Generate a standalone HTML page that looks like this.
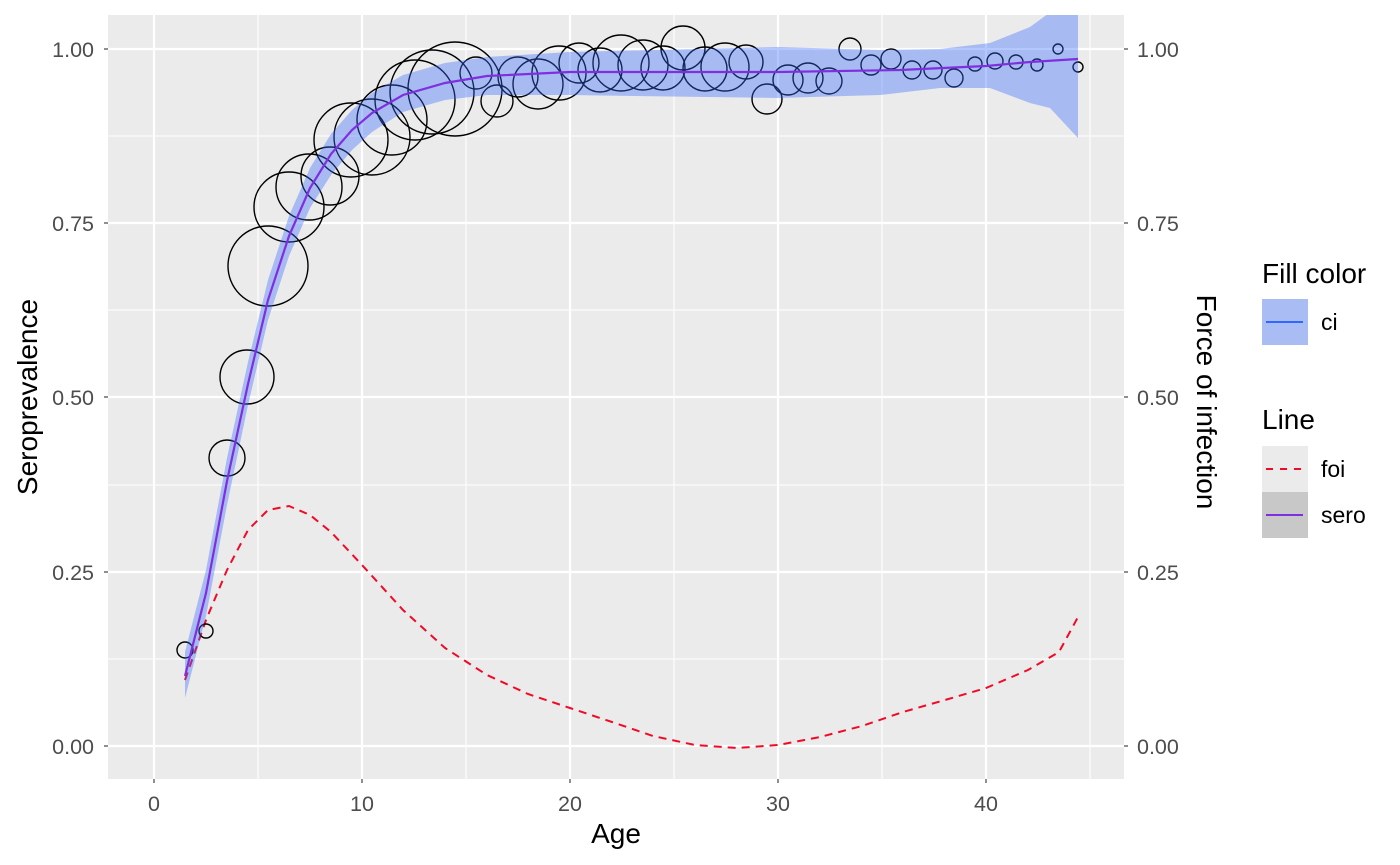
<!DOCTYPE html>
<html><head><meta charset="utf-8"><style>body{margin:0;background:#fff}svg{display:block}text{font-family:"Liberation Sans",sans-serif}</style></head><body>
<svg width="1400" height="865" viewBox="0 0 1400 865">
<defs><clipPath id="p"><rect x="108" y="15" width="1016" height="764"/></clipPath></defs>
<rect x="108" y="15" width="1016" height="764" fill="#ebebeb"/>
<g stroke="#fff" stroke-width="1.1">
<line x1="258" y1="15" x2="258" y2="779"/><line x1="466" y1="15" x2="466" y2="779"/><line x1="674" y1="15" x2="674" y2="779"/><line x1="882" y1="15" x2="882" y2="779"/><line x1="1090" y1="15" x2="1090" y2="779"/>
<line x1="108" y1="136" x2="1124" y2="136"/><line x1="108" y1="310" x2="1124" y2="310"/><line x1="108" y1="485" x2="1124" y2="485"/><line x1="108" y1="659" x2="1124" y2="659"/>
</g>
<g stroke="#fff" stroke-width="2.2">
<line x1="154" y1="15" x2="154" y2="779"/><line x1="362" y1="15" x2="362" y2="779"/><line x1="570" y1="15" x2="570" y2="779"/><line x1="778" y1="15" x2="778" y2="779"/><line x1="986" y1="15" x2="986" y2="779"/>
<line x1="108" y1="49" x2="1124" y2="49"/><line x1="108" y1="223" x2="1124" y2="223"/><line x1="108" y1="397" x2="1124" y2="397"/><line x1="108" y1="572" x2="1124" y2="572"/><line x1="108" y1="746" x2="1124" y2="746"/>
</g>
<g clip-path="url(#p)">
<polyline fill="none" stroke="#f00a26" stroke-width="2" stroke-dasharray="8,6" points="185,680 206,620 227,570 248,530 268,510 289,506 310,515 331,532 362,565 403,610 445,648 487,675 528,694 570,708 612,722 653,736 695,745 737,748 778,745 820,737 862,726 903,712 945,700 986,688 1028,670 1059,652 1078,617"/>
<g fill="none" stroke="#000" stroke-width="1.4">
<circle cx="185" cy="650" r="8"/><circle cx="206" cy="631" r="7"/><circle cx="227" cy="458" r="18"/><circle cx="247" cy="377" r="27"/><circle cx="268" cy="266" r="40"/><circle cx="289" cy="207" r="35"/><circle cx="309" cy="187" r="33"/><circle cx="330" cy="176" r="29"/><circle cx="351" cy="140" r="37"/><circle cx="372" cy="137" r="38"/><circle cx="392" cy="120" r="35"/><circle cx="415" cy="100" r="40"/><circle cx="432" cy="92" r="42"/><circle cx="455" cy="89" r="47"/><circle cx="476" cy="73" r="16"/><circle cx="497" cy="101" r="16"/><circle cx="518" cy="77" r="20"/><circle cx="538" cy="84" r="25"/><circle cx="559" cy="73" r="27"/><circle cx="579" cy="63" r="20"/><circle cx="600" cy="70" r="22"/><circle cx="621" cy="63" r="28"/><circle cx="643" cy="65" r="25"/><circle cx="663" cy="68" r="22"/><circle cx="683" cy="48" r="22"/><circle cx="705" cy="69" r="22"/><circle cx="725" cy="67" r="24"/><circle cx="746" cy="62" r="17"/><circle cx="767" cy="99" r="15"/><circle cx="788" cy="80" r="15"/><circle cx="808" cy="78" r="15"/><circle cx="829" cy="81" r="13"/><circle cx="850" cy="49" r="11"/><circle cx="871" cy="65" r="10"/><circle cx="891" cy="59" r="10"/><circle cx="912" cy="70" r="9"/><circle cx="933" cy="70" r="9"/><circle cx="954" cy="78" r="9"/><circle cx="975" cy="64" r="7"/><circle cx="995" cy="61" r="8"/><circle cx="1016" cy="62" r="7"/><circle cx="1037" cy="65" r="6"/><circle cx="1058" cy="49" r="5"/><circle cx="1078" cy="67" r="5"/>
</g>
<path d="M185,652 L206,570 L227,458 L248,362 L268,280 L289,216 L310,168 L331,134 L352,110 L372,93 L403,75 L445,63 L487,57 L570,52 L778,47 L880,50 L940,49 L990,43 L1030,27 L1060,5 L1078,0 L1078,138 L1050,108 L1030,103 L990,88 L940,88 L880,95 L778,98 L570,95 L487,95 L445,100 L403,112 L372,132 L352,150 L331,175 L310,208 L289,256 L268,320 L248,405 L227,505 L206,616 L185,698 Z" fill="#3366ff" fill-opacity="0.37"/>
<polyline fill="none" stroke="#7f2fe0" stroke-width="2.2" points="185,676 206,593 227,481 248,384 268,300 289,236 310,188 331,154 352,130 372,113 403,95 445,83 487,76 570,72 778,72 900,70 986,66 1030,62 1078,59"/>
</g>
<g stroke="#333" stroke-width="1.1">
<line x1="104" y1="49" x2="108" y2="49"/><line x1="104" y1="223" x2="108" y2="223"/><line x1="104" y1="397" x2="108" y2="397"/><line x1="104" y1="572" x2="108" y2="572"/><line x1="104" y1="746" x2="108" y2="746"/>
<line x1="1124" y1="49" x2="1128" y2="49"/><line x1="1124" y1="223" x2="1128" y2="223"/><line x1="1124" y1="397" x2="1128" y2="397"/><line x1="1124" y1="572" x2="1128" y2="572"/><line x1="1124" y1="746" x2="1128" y2="746"/>
<line x1="154" y1="779" x2="154" y2="783"/><line x1="362" y1="779" x2="362" y2="783"/><line x1="570" y1="779" x2="570" y2="783"/><line x1="778" y1="779" x2="778" y2="783"/><line x1="986" y1="779" x2="986" y2="783"/>
</g>
<g fill="#4d4d4d" font-size="21.5">
<g text-anchor="end"><text x="94" y="57">1.00</text><text x="94" y="231">0.75</text><text x="94" y="405">0.50</text><text x="94" y="580">0.25</text><text x="94" y="754">0.00</text></g>
<g><text x="1137" y="57">1.00</text><text x="1137" y="231">0.75</text><text x="1137" y="405">0.50</text><text x="1137" y="580">0.25</text><text x="1137" y="754">0.00</text></g>
<g text-anchor="middle"><text x="154" y="811">0</text><text x="362" y="811">10</text><text x="570" y="811">20</text><text x="778" y="811">30</text><text x="986" y="811">40</text></g>
</g>
<g fill="#000" font-size="28">
<text x="616" y="843" text-anchor="middle">Age</text>
<text transform="translate(37,397) rotate(-90)" text-anchor="middle">Seroprevalence</text>
<text transform="translate(1197,402) rotate(90)" text-anchor="middle">Force of infection</text>
<text x="1262" y="283">Fill color</text>
<text x="1262" y="429">Line</text>
</g>
<rect x="1262" y="299" width="46" height="46" fill="#a9bdf4"/>
<line x1="1266" y1="322" x2="1303" y2="322" stroke="#3366ff" stroke-width="2"/>
<rect x="1262" y="446" width="46" height="46" fill="#ebebeb"/>
<line x1="1266" y1="469" x2="1303" y2="469" stroke="#f00a26" stroke-width="2" stroke-dasharray="7,7"/>
<rect x="1262" y="492" width="46" height="46" fill="#c8c8c8"/>
<line x1="1266" y1="515" x2="1303" y2="515" stroke="#7f2fe0" stroke-width="2"/>
<g font-size="23" fill="#000"><text x="1321" y="330">ci</text><text x="1321" y="477">foi</text><text x="1321" y="523">sero</text></g>
</svg>
</body></html>
